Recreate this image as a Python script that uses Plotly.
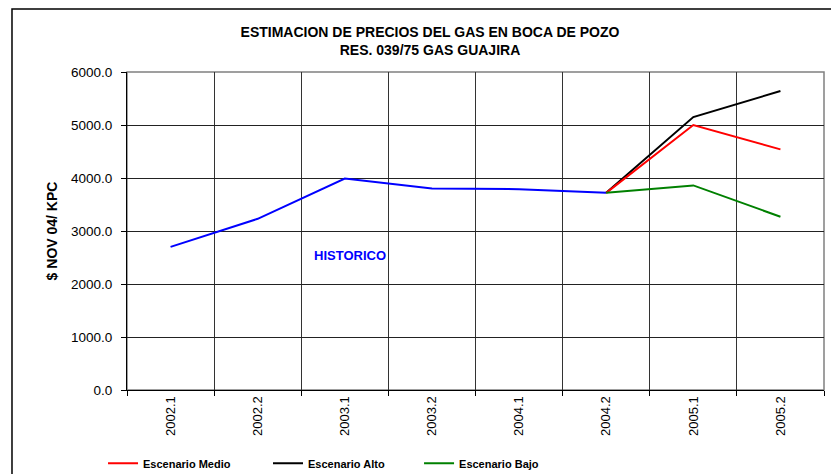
import plotly.graph_objects as go

# datos
periodos = ["2002.1", "2002.2", "2003.1", "2003.2", "2004.1", "2004.2", "2005.1", "2005.2"]
historico = [2700, 3230, 3990, 3800, 3790, 3720, None, None]
esc_medio = [None, None, None, None, None, 3720, 5000, 4540]
esc_alto = [None, None, None, None, None, 3720, 5150, 5640]
esc_bajo = [None, None, None, None, None, 3720, 3860, 3270]

fig = go.Figure()
fig.add_trace(go.Scatter(x=periodos, y=historico, mode="lines", name="Historico",
                         line=dict(color="#0000FF", width=2), showlegend=False))
fig.add_trace(go.Scatter(x=periodos, y=esc_alto, mode="lines", name="<b>Escenario Alto</b>",
                         line=dict(color="#000000", width=2), legend="legend2"))
fig.add_trace(go.Scatter(x=periodos, y=esc_medio, mode="lines", name="<b>Escenario Medio</b>",
                         line=dict(color="#FF0000", width=2), legend="legend"))
fig.add_trace(go.Scatter(x=periodos, y=esc_bajo, mode="lines", name="<b>Escenario Bajo</b>",
                         line=dict(color="#008000", width=2), legend="legend3"))

# cada escenario con su propia leyenda para ubicarlas como en el original
ley = dict(orientation="h", xanchor="left", y=-0.185, yanchor="top", font=dict(size=11))

# la pagina tiene 8px de margen en el body, por eso la figura es mas chica
fig.update_layout(
    width=831, height=466,
    margin=dict(l=119, r=15, t=64, b=84, autoexpand=False),
    paper_bgcolor="white", plot_bgcolor="white",
    font=dict(family="Liberation Sans, Arial", size=13, color="black"),
    title=dict(text="<b>ESTIMACION DE PRECIOS DEL GAS EN BOCA DE POZO<br>RES. 039/75 GAS GUAJIRA</b>",
               x=422 / 831, xref="container", xanchor="center",
               y=1 - 29 / 466, yref="container", yanchor="top",
               font=dict(size=14)),
    xaxis=dict(type="category", tickson="boundaries", ticks="outside", ticklen=5,
               tickcolor="black", tickangle=-90, showline=True, linecolor="black",
               showgrid=True, gridcolor="#333333", gridwidth=1, automargin=False,
               range=[-0.5, 7.5], tickfont=dict(size=13)),
    yaxis=dict(range=[0, 6000], dtick=1000, tickformat=".1f", ticks="outside", ticklen=5,
               tickcolor="black", showline=True, linecolor="black", automargin=False,
               showgrid=True, gridcolor="#222222", gridwidth=1, zeroline=False,
               ticklabelstandoff=6,
               title=dict(text="<b>$ NOV 04/ KPC</b>", font=dict(size=14), standoff=10),
               tickfont=dict(size=13.5)),
    legend=dict(ley, x=-0.0344),
    legend2=dict(ley, x=0.2023),
    legend3=dict(ley, x=0.419),
    showlegend=True,
)

# borde gris del area de trazado (arriba y derecha)
fig.add_shape(type="rect", xref="paper", yref="paper", x0=0, x1=1, y0=0, y1=1,
              line=dict(color="#808080", width=1.5), layer="below")
# marco exterior del grafico
fig.add_shape(type="rect", xref="paper", yref="paper", x0=-0.165, x1=1.05, y0=-0.4, y1=1.198,
              line=dict(color="black", width=1.5))

fig.add_annotation(x=2.06, y=2530, text="<b>HISTORICO</b>", showarrow=False,
                   font=dict(color="#0000FF", size=13))

fig.write_html("out.html")
